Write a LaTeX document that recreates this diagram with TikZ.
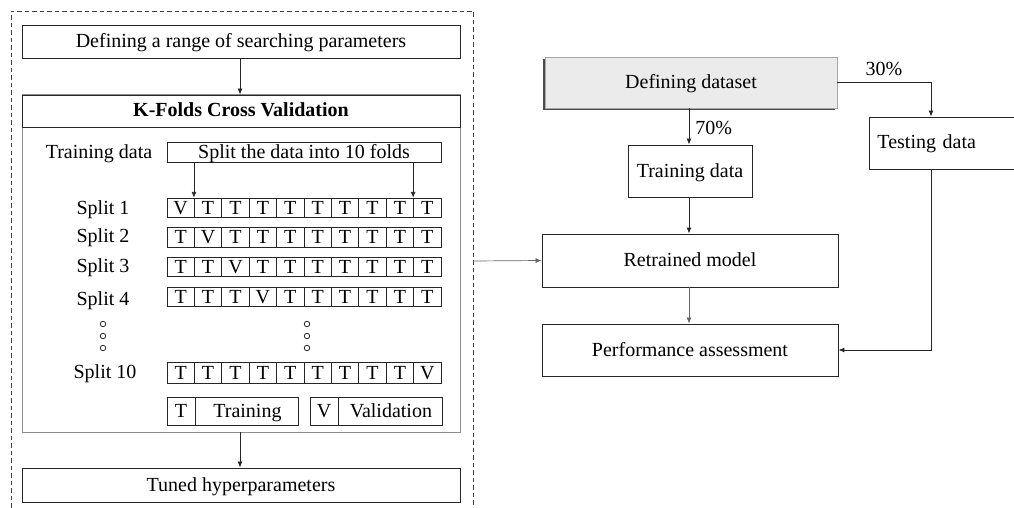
\documentclass[tikz,border=0pt]{standalone}
\usepackage{fontspec}
\setmainfont{Liberation Serif}
\usetikzlibrary{arrows.meta}
\tikzset{
  txt/.style={font=\fontsize{20}{22}\selectfont, text height=14.5pt, text depth=2.5pt},
  box/.style={draw=black!85, line width=0.9pt, rectangle, inner sep=0pt, txt},
  cell/.style={draw=black!85, line width=0.9pt, rectangle, inner sep=0pt, minimum width=27.4pt, minimum height=19.5pt, txt},
  lbl/.style={inner sep=0pt, txt},
  arr/.style={-{Latex[length=6pt,width=5pt]}, line width=0.9pt, draw=black!85},
  garr/.style={-{Latex[length=6pt,width=5pt]}, line width=0.7pt, draw=black!60},
  dotc/.style={circle, draw=black!85, line width=0.8pt, minimum size=5.5pt, inner sep=0pt},
}
\begin{document}
\begin{tikzpicture}[x=1pt,y=-1pt]
\useasboundingbox (0,0) rectangle (1014,508);
\clip (0,0) rectangle (1014,508);
\fill[white] (0,0) rectangle (1014,508);
% dashed outer
\draw[black!75, line width=0.9pt, dash pattern=on 4.5pt off 3pt] (11,515) -- (11,11) -- (473,11) -- (473,515);
% left column
\node[box, minimum width=438pt, minimum height=33pt] (range) at (241,41.5) {Defining a range of searching parameters};
\draw[black!45, line width=1pt] (22,95) rectangle (460,432);
\node[box, minimum width=438pt, minimum height=32pt, font=\fontsize{20}{22}\selectfont\bfseries] (kfold) at (241,111) {K-Folds Cross Validation};
\draw[arr] (range.south -| 240,0) -- (kfold.north -| 240,0);
\node[lbl] (trd) at (99,152) {Training data};
\node[box, minimum width=274pt, minimum height=19.5pt] (split) at (304,152.5) {Split the data into 10 folds};
% rows
\foreach \r/\y/\ly/\v/\lab in {1/208/208/1/Split 1, 2/237.5/236/2/Split 2, 3/267/266/3/Split 3, 4/297/299/4/Split 4} {
  \node[lbl] (s\r) at (103,\ly) {\lab};
  \foreach \c in {1,...,10} {
    \pgfmathsetmacro{\xx}{167+27.4*(\c-0.5)}
    \ifnum\c=\v
      \node[cell] (r\r c\c) at (\xx,\y) {V};
    \else
      \node[cell] (r\r c\c) at (\xx,\y) {T};
    \fi
  }
}
\node[lbl] (s10) at (105,372) {Split 10};
\foreach \c in {1,...,10} {
  \pgfmathsetmacro{\xx}{167+27.4*(\c-0.5)}
  \ifnum\c=10
    \node[cell, minimum height=21pt] (r10c\c) at (\xx,373) {V};
  \else
    \node[cell, minimum height=21pt] (r10c\c) at (\xx,373) {T};
  \fi
}
\draw[arr] (split.south -| r1c2.west) -- (r1c2.north west);
\draw[arr] (split.south -| r1c10.west) -- (r1c10.north west);
% dots
\foreach \y/\n in {324/1,336/2,348/3} {
  \node[dotc] (dl\n) at (103,\y) {};
  \node[dotc] (dm\n) at (307,\y) {};
}
% legend
\node[box, minimum width=28pt, minimum height=28pt] (lT) at (181,411.5) {T};
\node[box, minimum width=103pt, minimum height=28pt, anchor=west] (lTr) at (lT.east) {Training};
\node[box, minimum width=28pt, minimum height=28pt] (lV) at (324,411.5) {V};
\node[box, minimum width=104pt, minimum height=28pt, anchor=west] (lVa) at (lV.east) {Validation};
\coordinate (kbot) at (240,432);
\node[box, minimum width=438pt, minimum height=34pt] (tuned) at (241,485) {Tuned hyperparameters};
\draw[arr, line width=0.7pt] (kbot) -- (tuned.north -| kbot);
% right side
\fill[black!70] (543,59) rectangle (835,110);
\node[box, draw=black!35, line width=0.6pt, fill=black!8, minimum width=292pt, minimum height=51pt] (ds) at (691,82.5) {Defining dataset};
\node[box, minimum width=124pt, minimum height=52pt] (trn) at (690,171) {Training data};
\node[box, anchor=west, minimum height=52pt, text width=134pt, inner xsep=8pt, align=left] (test) at (869,143) {Testing data};
\node[box, minimum width=296pt, minimum height=53pt] (ret) at (690,260.5) {Retrained model};
\node[box, minimum width=296pt, minimum height=52pt] (perf) at (690,350) {Performance assessment};
\draw[arr] (ds.south -| 689,0) -- node[lbl, right, xshift=6pt, yshift=-2pt] (p70) {70\%} (trn.north -| 689,0);
\draw[arr] (ds.east |- 0,82) -| (test.north -| 931,0);
\node[lbl] (p30) at (884,70) {30\%};
\draw[arr] (trn.south -| 689,0) -- (ret.north -| 689,0);
\draw[garr] (ret.south -| 689,0) -- (perf.north -| 689,0);
\draw[arr] (test.south -| 931,0) |- (perf.east);
\coordinate (dashR) at (473,261);
\draw[garr] (dashR) -- (ret.west);
\end{tikzpicture}
\end{document}
